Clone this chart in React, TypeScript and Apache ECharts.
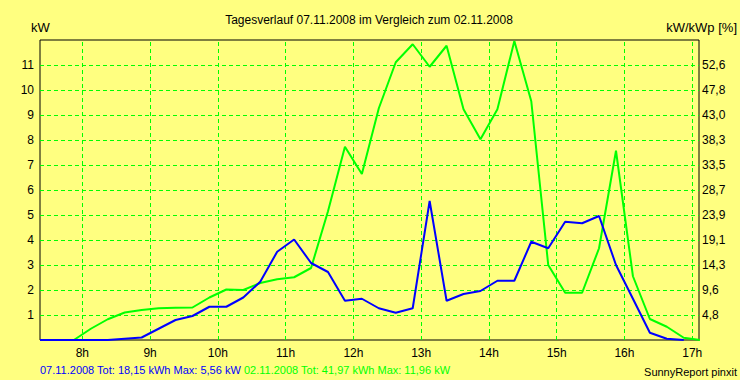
import React, { useEffect, useRef } from 'react';
import * as echarts from 'echarts';

// Time stamps of the 15-minute values (centre of each interval)
const times = [
  '07:22:30', '07:37:30', '07:52:30', '08:07:30', '08:22:30', '08:37:30', '08:52:30', '09:07:30',
  '09:22:30', '09:37:30', '09:52:30', '10:07:30', '10:22:30', '10:37:30', '10:52:30', '11:07:30',
  '11:22:30', '11:37:30', '11:52:30', '12:07:30', '12:22:30', '12:37:30', '12:52:30', '13:07:30',
  '13:22:30', '13:37:30', '13:52:30', '14:07:30', '14:22:30', '14:37:30', '14:52:30', '15:07:30',
  '15:22:30', '15:37:30', '15:52:30', '16:07:30', '16:22:30', '16:37:30', '16:52:30', '17:07:30',
];

// 07.11.2008 (blue), kW
const day1Values: (number | null)[] = [
  0, 0, 0, 0, 0, 0.05, 0.1, 0.45, 0.8, 0.96,
  1.33, 1.33, 1.7, 2.33, 3.53, 4.02, 3.08, 2.72, 1.57, 1.65,
  1.27, 1.09, 1.27, 5.56, 1.57, 1.84, 1.96, 2.37, 2.37, 3.93,
  3.67, 4.73, 4.67, 4.96, 3.0, 1.65, 0.29, 0.05, 0, null,
];

// 02.11.2008 (green), kW
const day2Values: number[] = [
  0, 0, 0, 0.45, 0.83, 1.1, 1.2, 1.27, 1.29, 1.3,
  1.7, 2.02, 2.0, 2.28, 2.43, 2.51, 2.88, 5.15, 7.73, 6.64,
  9.27, 11.11, 11.83, 10.93, 11.77, 9.23, 8.03, 9.23, 11.96, 9.55,
  3.0, 1.89, 1.89, 3.67, 7.57, 2.55, 0.84, 0.53, 0.09, 0,
];

const hourTicks = [8, 9, 10, 11, 12, 13, 14, 15, 16, 17];
const rightTickLabels = ['', '4,8', '9,6', '14,3', '19,1', '23,9', '28,7', '33,5', '38,3', '43,0', '47,8', '52,6', ''];

const titleText = 'Tagesverlauf 07.11.2008 im Vergleich zum 02.11.2008';
const day1Label = '07.11.2008 Tot: 18,15 kWh Max: 5,56 kW';
const day2Label = '02.11.2008 Tot: 41,97 kWh Max: 11,96 kW';
const leftUnit = 'kW';
const rightUnit = 'kW/kWp [%]';
const footer = 'SunnyReport pinxit';

function toHours(s: string): number {
  const [h, m, sec] = s.split(':').map(Number);
  return h + m / 60 + sec / 3600;
}

const FONT = '"Liberation Sans", Arial, sans-serif';

export default function App() {
  const ref = useRef<HTMLDivElement>(null);

  useEffect(() => {
    if (!ref.current) return;
    const chart = echarts.init(ref.current, null, { renderer: 'svg' });
    const xs = times.map(toHours);

    chart.setOption({
      animation: false,
      backgroundColor: '#FFFF80',
      grid: {
        left: 40, right: 41, top: 40, bottom: 40,
        show: true, borderColor: '#000000', borderWidth: 1, backgroundColor: 'transparent',
      },
      xAxis: {
        type: 'value', min: 7.375, max: 17.1,
        axisLine: { show: false }, axisTick: { show: false }, splitLine: { show: false },
        axisLabel: {
          customValues: hourTicks,
          formatter: (v: number) => `${v}h`,
          color: '#000', fontSize: 12, fontFamily: FONT, margin: 7,
        },
      },
      yAxis: [
        {
          type: 'value', min: 0, max: 12, interval: 1, position: 'left',
          axisLine: { show: false }, axisTick: { show: false },
          axisLabel: {
            formatter: (v: number) => (v > 0 && v < 12 ? String(v) : ''),
            color: '#000', fontSize: 12, fontFamily: FONT, margin: 6,
          },
          splitLine: {
            show: true, showMinLine: false, showMaxLine: false,
            lineStyle: { color: '#00FF00', type: [4, 3], width: 1 },
          },
        },
        {
          type: 'value', min: 0, max: 12, interval: 1, position: 'right',
          axisLine: { show: false }, axisTick: { show: false }, splitLine: { show: false },
          axisLabel: {
            formatter: (v: number) => rightTickLabels[Math.round(v)] ?? '',
            color: '#000', fontSize: 12, fontFamily: FONT, margin: 3,
          },
        },
      ],
      series: [
        {
          name: day2Label, type: 'line', z: 2,
          data: xs.map((x, i) => [x, day2Values[i]]),
          symbol: 'none', lineStyle: { color: '#00FF00', width: 2 }, itemStyle: { color: '#00FF00' },
          markLine: {
            silent: true, z: 1, symbol: ['none', 'none'], label: { show: false },
            emphasis: { disabled: true },
            lineStyle: { color: '#00FF00', type: [4, 3], width: 1 },
            data: hourTicks.map((h) => ({ xAxis: h })),
          },
        },
        {
          name: day1Label, type: 'line', z: 3,
          data: xs.map((x, i) => [x, day1Values[i]]),
          symbol: 'none', lineStyle: { color: '#0000FF', width: 2 }, itemStyle: { color: '#0000FF' },
        },
      ],
      graphic: [
        { type: 'text', x: 369, y: 20, style: { text: titleText, fontSize: 12, fontFamily: FONT, fill: '#000', align: 'center', verticalAlign: 'middle' } },
        { type: 'text', x: 31, y: 27, style: { text: leftUnit, fontSize: 13, fontFamily: FONT, fill: '#000', align: 'left', verticalAlign: 'middle' } },
        { type: 'text', x: 737, y: 27, style: { text: rightUnit, fontSize: 13, fontFamily: FONT, fill: '#000', align: 'right', verticalAlign: 'middle' } },
        {
          type: 'text', x: 40, y: 369.5,
          style: {
            text: `{a|${day1Label}}{b|${day2Label}}`,
            fontSize: 11, fontFamily: FONT, align: 'left', verticalAlign: 'middle',
            rich: {
              a: { fill: '#0000FF', fontSize: 11, fontFamily: FONT, padding: [0, 3, 0, 0] },
              b: { fill: '#00FF00', fontSize: 11, fontFamily: FONT },
            },
          },
        },
        { type: 'text', x: 737, y: 371.5, style: { text: footer, fontSize: 11, fontFamily: FONT, fill: '#000', align: 'right', verticalAlign: 'middle' } },
      ],
    });

    return () => chart.dispose();
  }, []);

  return <div ref={ref} style={{ position: 'absolute', left: 0, top: 0, width: 740, height: 380 }} />;
}
